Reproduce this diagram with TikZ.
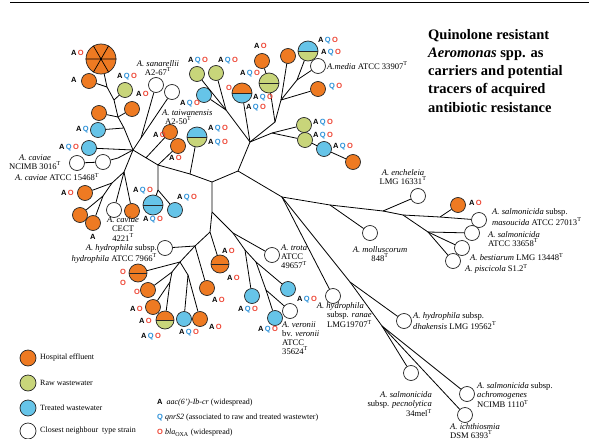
\documentclass[tikz,border=0pt]{standalone}
\usepackage{fontspec}
\setmainfont{Liberation Serif}
\newfontfamily\mkfont{Liberation Sans}
\definecolor{orgc}{HTML}{EE7A22}
\definecolor{grnc}{HTML}{C8D57A}
\definecolor{bluc}{HTML}{66C4E8}
\definecolor{qcol}{HTML}{2A90D8}
\definecolor{ocol}{HTML}{EE4433}
\newcommand{\gA}{\textcolor{black}{A}}
\newcommand{\gQ}{\textcolor{qcol}{Q}}
\newcommand{\gO}{\textcolor{ocol}{O}}
\newcommand{\gsp}{\hspace{1.3pt}}
\newcommand{\mAQO}{\gA\gsp\gQ\gsp\gO}
\newcommand{\mAO}{\gA\gsp\gO}
\newcommand{\mQO}{\gQ\gsp\gO}
\newcommand{\mAQ}{\gA\gsp\gQ}
\newcommand{\Tsup}{\textsuperscript{T}}
\tikzset{
 circ/.style={circle, draw=black!85, line width=0.7pt, minimum size=15pt, inner sep=0pt},
 hosp/.style={circ, fill=orgc},
 rawc/.style={circ, fill=grnc},
 trt/.style={circ, fill=bluc},
 typ/.style={circ, fill=white},
 halfc/.style 2 args={circ, minimum size=20pt, path picture={
   \fill[#1] (path picture bounding box.west) rectangle (path picture bounding box.north east);
   \fill[#2] (path picture bounding box.west) rectangle (path picture bounding box.south east);
   \draw[line width=0.7pt, black!85] (path picture bounding box.west) -- (path picture bounding box.east);}},
 lnk/.style={draw=black, line width=0.8pt},
 mk/.style={font=\mkfont\bfseries\fontsize{7.5}{7.5}\selectfont, inner sep=0pt, anchor=west},
 lab/.style={font=\fontsize{8.6}{9.2}\selectfont, inner sep=0pt},
 lt/.style={font=\fontsize{8}{8}\selectfont, inner sep=0pt, anchor=west},
}
\begin{document}
\begin{tikzpicture}[x=1pt,y=-1pt]
\useasboundingbox (0,0) rectangle (589,439);
\fill[white] (0,0) rectangle (589,439);
\draw[line width=1.2pt] (10,2.5) coordinate (r1) -- (589,2.5) coordinate (r2);

% ---------- circles ----------
\node[hosp, minimum size=30pt] (BIG) at (101,59) {};
\draw[line width=0.7pt] (BIG.west) -- (BIG.east) (BIG.60) -- (BIG.240) (BIG.120) -- (BIG.300);
\node[hosp] (O1) at (89,81) {};
\node[rawc] (G1) at (125,90) {};
\node[typ] (W1) at (156,85) {};
\node[typ] (W2) at (172,92) {};
\node[hosp] (O2) at (99,113) {};
\node[hosp] (O3) at (132,109) {};
\node[trt] (B1) at (98,130) {};
\node[trt] (B2) at (89,148) {};
\node[typ] (W4) at (77,163) {};
\node[typ] (W5) at (103,162) {};
\node[hosp] (O4) at (170,132) {};
\node[hosp] (O5) at (178,146) {};
\node[rawc] (G2) at (197,74) {};
\node[rawc] (G3) at (216,73) {};
\node[trt] (B3) at (204,95) {};
\node[halfc={orgc}{bluc}] (S1) at (242,93) {};
\node[hosp] (O6) at (262,61) {};
\node[halfc={grnc}{grnc}] (S2) at (269,83) {};
\node[hosp] (O7) at (288,56) {};
\node[halfc={bluc}{grnc}] (S3) at (308,51) {};
\node[typ] (W3) at (318,66) {};
\node[hosp] (O8) at (318,89) {};
\node[rawc] (G4) at (304,125) {};
\node[rawc] (G5) at (305,140) {};
\node[trt] (B4) at (324,149) {};
\node[hosp] (O9) at (353,162) {};
\node[halfc={bluc}{grnc}] (S4) at (197,137) {};
\node[halfc={bluc}{bluc}] (S5) at (153,205) {};
\node[trt] (B5) at (175,210) {};
\node[hosp] (O10) at (85,193) {};
\node[hosp] (O11) at (80,215) {};
\node[hosp] (O12) at (93,223) {};
\node[typ] (W6) at (114,210) {};
\node[hosp] (O13) at (132,211) {};
\node[typ] (W7) at (165,248) {};
\node[halfc={orgc}{orgc}, minimum size=18pt] (S6) at (220,264) {};
\node[halfc={orgc}{orgc}, minimum size=18pt] (S7) at (138,273) {};
\node[hosp] (O14) at (148,290) {};
\node[hosp] (O15) at (153,307) {};
\node[halfc={orgc}{grnc}, minimum size=18pt] (S8) at (165,320) {};
\node[trt] (B6) at (184,319) {};
\node[hosp] (O16) at (200,319) {};
\node[hosp] (O17) at (207,288) {};
\node[trt] (B7) at (252,296) {};
\node[trt] (B8) at (288,289) {};
\node[trt] (B9) at (275,318) {};
\node[typ] (W8) at (272,255) {};
\node[typ] (W9) at (290,311) {};
\node[typ] (W10) at (333,296) {};
\node[typ] (W11) at (370,233) {};
\node[typ] (W12) at (418,196) {};
\node[hosp] (O18) at (458,205) {};
\node[typ] (W13) at (479,220) {};
\node[typ] (W14) at (472,233) {};
\node[typ] (W15) at (462,248) {};
\node[typ] (W16) at (453,261) {};
\node[typ] (W17) at (404,321) {};
\node[typ] (W18) at (411,373) {};
\node[typ] (W19) at (467,394) {};
\node[typ] (W20) at (465,415) {};

% ---------- junctions ----------
\coordinate (J35) at (107,87);
\coordinate (J34) at (114,100);
\coordinate (J33) at (118,117);
\coordinate (J32) at (124,128);
\coordinate (J8) at (133,150);
\coordinate (J37) at (141,138);
\coordinate (J38) at (146,157.8);
\coordinate (J39) at (118,158);
\coordinate (J40) at (124,172);
\coordinate (J41) at (112,183);
\coordinate (J42) at (103,196);
\coordinate (J7) at (158,165);
\coordinate (J9) at (158,190);
\coordinate (J6) at (190,174);
\coordinate (J0) at (212,182);
\coordinate (J1) at (238,171);
\coordinate (J2) at (250,142);
\coordinate (J3) at (226,110);
\coordinate (J4) at (275,122);
\coordinate (J29) at (281,100);
\coordinate (J30) at (297,80);
\coordinate (J31) at (272,133);
\coordinate (J5) at (282,197);
\coordinate (J26) at (330,205);
\coordinate (J22) at (383,211);
\coordinate (J23) at (403,215);
\coordinate (J24) at (440,217);
\coordinate (J25) at (428,232);
\coordinate (J27) at (350,282);
\coordinate (J28) at (382,326);
\coordinate (J17) at (212,212);
\coordinate (J10) at (210,232);
\coordinate (J18) at (233,233);
\coordinate (J19) at (245,250);
\coordinate (J20) at (256,262);
\coordinate (J21) at (266,290);
\coordinate (J11) at (195,246);
\coordinate (J12) at (180,262);
\coordinate (J13) at (172,272);
\coordinate (J14) at (170,282);
\coordinate (J15) at (188,275);

% ---------- connectors ----------
\draw[lnk] (BIG) -- (J35) -- (J34) -- (J33) -- (J32) -- (J8);
\draw[lnk] (J35) -- (O1);
\draw[lnk] (J34) -- (G1);
\draw[lnk] (J33) -- (O2);
\draw[lnk] (J33) -- (O3);
\draw[lnk] (J32) -- (B1);
\draw[lnk] (J8) -- (B2);
\draw[lnk] (J8) -- (J37) -- (W1);
\draw[lnk] (J37) -- (W2);
\draw[lnk] (J8) -- (J7);
\draw[lnk] (J38) -- (O4);
\draw[lnk] (J7) -- (O5);
\draw[lnk] (J8) -- (J39) -- (W5) -- (W4);
\draw[lnk] (J8) -- (J40) -- (J41) -- (J42) -- (O11);
\draw[lnk] (J42) -- (O12);
\draw[lnk] (J41) -- (O10);
\draw[lnk] (J40) -- (W6);
\draw[lnk] (J40) -- (O13);
\draw[lnk] (J7) -- (J9) -- (S5);
\draw[lnk] (J9) -- (B5);
\draw[lnk] (J7) -- (J6) -- (J0);
\draw[lnk] (J6) -- (S4);
\draw[lnk] (J0) -- (J1) -- (J2) -- (J3) -- (G2);
\draw[lnk] (J3) -- (G3);
\draw[lnk] (J3) -- (B3);
\draw[lnk] (J2) -- (S1);
\draw[lnk] (J2) -- (J4) -- (S2) -- (O6);
\draw[lnk] (J4) -- (J29) -- (O7);
\draw[lnk] (J29) -- (J30) -- (S3);
\draw[lnk] (J30) -- (W3);
\draw[lnk] (J29) -- (O8);
\draw[lnk] (J2) -- (J31) -- (G4);
\draw[lnk] (J31) -- (G5) -- (B4) -- (O9);
\draw[lnk] (J1) -- (J5) -- (J26) -- (J22) -- (W12);
\draw[lnk] (J26) -- (W11);
\draw[lnk] (J22) -- (J23) -- (J24) -- (O18);
\draw[lnk] (J24) -- (W13);
\draw[lnk] (J23) -- (J25) -- (W14);
\draw[lnk] (J25) -- (W15);
\draw[lnk] (J25) -- (W16);
\draw[lnk] (J5) -- (W10);
\draw[lnk] (J5) -- (J27) -- (W17);
\draw[lnk] (J27) -- (J28) -- (W18);
\draw[lnk] (J28) -- (W19);
\draw[lnk] (J28) -- (W20);
\draw[lnk] (J0) -- (J17) -- (J10) -- (J11) -- (W7);
\draw[lnk] (J17) -- (J18) -- (W8);
\draw[lnk] (J18) -- (J19) -- (B7);
\draw[lnk] (J19) -- (J20) -- (B8);
\draw[lnk] (J20) -- (J21) -- (B9);
\draw[lnk] (J21) -- (W9);
\draw[lnk] (J10) -- (S6);
\draw[lnk] (J11) -- (O17);
\draw[lnk] (J11) -- (J12) -- (S7);
\draw[lnk] (J12) -- (J13) -- (O14);
\draw[lnk] (J13) -- (J14) -- (O15);
\draw[lnk] (J14) -- (S8);
\draw[lnk] (J12) -- (J15) -- (B6);
\draw[lnk] (J15) -- (O16);

% ---------- gene markers ----------
\node[mk] (m1) at (71,53) {\mAO};
\node[mk] (m2) at (71,80) {\gA};
\node[mk] (m3) at (117,77) {\mAQO};
\node[mk] (m4) at (136,94) {\mAO};
\node[mk] (m5) at (76,130) {\mAQ};
\node[mk] (m6) at (59,148) {\mAQO};
\node[mk] (m7) at (188,61) {\mAQO};
\node[mk] (m8) at (218,61) {\mAQO};
\node[mk] (m9) at (180,104) {\mAQO};
\node[mk] (m10) at (153,135) {\mAO};
\node[mk] (m11) at (169,158) {\mAO};
\node[mk] (m12) at (226,88) {\gO};
\node[mk] (m13) at (253,98) {\mAQO};
\node[mk] (m14) at (246,108) {\mAQO};
\node[mk] (m15) at (254,46) {\mAO};
\node[mk] (m16) at (240,74) {\mAQO};
\node[mk] (m17) at (318,41) {\mAQO};
\node[mk] (m18) at (321,53) {\mAQO};
\node[mk] (m19) at (329,87) {\mQO};
\node[mk] (m20) at (313,123) {\mAQO};
\node[mk] (m21) at (313,136) {\mAQO};
\node[mk] (m22) at (333,147) {\mAQO};
\node[mk] (m23) at (208,129) {\mAQO};
\node[mk] (m24) at (208,143) {\mAQO};
\node[mk] (m25) at (133,191) {\mAQO};
\node[mk] (m26) at (177,198) {\mAQO};
\node[mk] (m27) at (143,220) {\mAQO};
\node[mk] (m28) at (61,193) {\mAO};
\node[mk] (m29) at (90,237) {\gA};
\node[mk] (m30) at (120,272) {\gO};
\node[mk] (m31) at (120,283) {\gO};
\node[mk] (m32) at (134,292) {\gO};
\node[mk] (m33) at (130,309) {\mAO};
\node[mk] (m34) at (139,321) {\mAO};
\node[mk] (m35) at (141,337) {\mAQO};
\node[mk] (m36) at (179,333) {\mAQO};
\node[mk] (m37) at (209,327) {\mAO};
\node[mk] (m38) at (212,300) {\mAO};
\node[mk] (m39) at (222,251) {\mAO};
\node[mk] (m40) at (227,278) {\mAO};
\node[mk] (m41) at (238,310) {\mAQO};
\node[mk] (m42) at (297,300) {\mAQO};
\node[mk] (m43) at (258,330) {\mAQO};
\node[mk] (m44) at (469,203) {\mAO};

% ---------- strain labels ----------
\node[lab, align=center] (t1) at (158,68) {\textit{A. sanarellii}\\A2-67\Tsup};
\node[lab, align=left, anchor=west] (t2) at (162,117) {\textit{A. taiwanensis}\\\hspace*{3pt}A2-50\Tsup};
\node[lab, anchor=west] (t3) at (327,66) {\textit{A.media} ATCC 33907\Tsup};
\node[lab, align=center] (t4) at (35,162) {\textit{A. caviae}\\NCIMB 3016\Tsup};
\node[lab, anchor=west] (t5) at (15,177) {\textit{A. caviae} ATCC 15468\Tsup};
\node[lab, align=center] (t6) at (123,229) {\textit{A. caviae}\\CECT\\4221\Tsup};
\node[lab, align=right, anchor=east] (t7) at (157,254) {\textit{A. hydrophila} subsp.\\\textit{hydrophila} ATCC 7966\Tsup};
\node[lab, align=left, anchor=west] (t8) at (281,257) {\textit{A. trota}\\ATCC\\49657\Tsup};
\node[lab, align=left, anchor=west] (t9) at (282,338) {\textit{A. veronii}\\bv. \textit{veronii}\\ATCC\\35624\Tsup};
\node[lab, align=right, anchor=east] (t10) at (372,315) {\textit{A. hydrophila}\hspace*{8pt}\\subsp. \textit{ranae}\hspace*{11pt}\\LMG19707\Tsup};
\node[lab, align=left, anchor=west] (t11) at (413,321) {\textit{A. hydrophila} subsp.\\\textit{dhakensis} LMG 19562\Tsup};
\node[lab, align=center] (t12) at (380,254) {\textit{A. molluscorum}\\848\Tsup};
\node[lab, align=center] (t13) at (403,177) {\textit{A. encheleia}\\LMG 16331\Tsup};
\node[lab, align=left, anchor=west] (t14) at (492,217) {\textit{A. salmonicida} subsp.\\\textit{masoucida} ATCC 27013\Tsup};
\node[lab, align=left, anchor=west] (t15) at (488,239) {\textit{A. salmonicida}\\ATCC 33658\Tsup};
\node[lab, anchor=west] (t16) at (470,257) {\textit{A. bestiarum} LMG 13448\Tsup};
\node[lab, anchor=west] (t17) at (465,269) {\textit{A. piscicola} S1.2\Tsup};
\node[lab, align=right, anchor=east] (t18) at (432,404) {\textit{A. salmonicida}\\subsp. \textit{pecnolytica}\\34mel\Tsup};
\node[lab, align=left, anchor=west] (t19) at (477,395) {\textit{A. salmonicida} subsp.\\\textit{achromogenes}\\NCIMB 1110\Tsup};
\node[lab, align=left, anchor=west] (t20) at (450,431) {\textit{A. ichthiosmia}\\DSM 6393\Tsup};

% ---------- title ----------
\node[anchor=north west, align=left, inner sep=0pt, font=\fontsize{14.5}{18.2}\selectfont\bfseries] (title) at (428,29)
 {Quinolone resistant\\\textit{Aeromonas} spp. as\\carriers and potential\\tracers of acquired\\antibiotic resistance};

% ---------- legend ----------
\node[hosp, minimum size=16pt] (LH) at (28,358) {};
\node[lt] (LHt) at (40,358) {Hospital effluent};
\node[rawc, minimum size=16pt] (LR) at (28,383) {};
\node[lt] (LRt) at (40,383) {Raw wastewater};
\node[trt, minimum size=16pt] (LT) at (28,408) {};
\node[lt] (LTt) at (40,408) {Treated wastewater};
\node[typ, minimum size=16pt] (LC) at (28,431) {};
\node[lt] (LCt) at (40,431) {Closest neighbour\ \ type strain};
\node[lt] (G1t) at (157,403) {{\mkfont\bfseries\fontsize{7.5}{7.5}\selectfont\gA}\ \ \textit{aac(6')-Ib-cr} (widespread)};
\node[lt] (G2t) at (157,418) {{\mkfont\bfseries\fontsize{7.5}{7.5}\selectfont\gQ}\ \textit{qnrS2} (associated to raw and treated wastewter)};
\node[lt] (G3t) at (157,433) {{\mkfont\bfseries\fontsize{7.5}{7.5}\selectfont\gO}\ \textit{bla}\textsubscript{OXA} (widespread)};
\end{tikzpicture}
\end{document}
